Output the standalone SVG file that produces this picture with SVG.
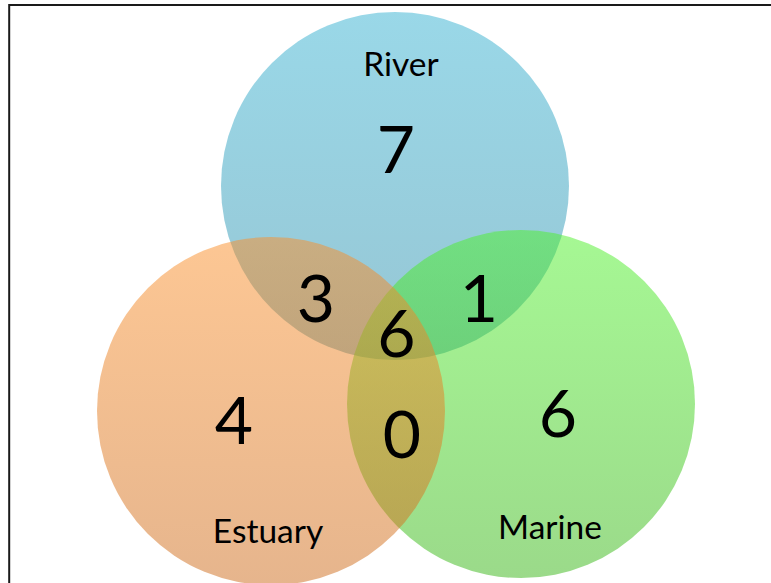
<svg xmlns="http://www.w3.org/2000/svg" width="771" height="583" viewBox="0 0 771 583">
  <defs>
    <linearGradient id="gRiver" x1="0" y1="0" x2="0" y2="1">
      <stop offset="0" stop-color="#35b1d1"/>
      <stop offset="1" stop-color="#2d8da9"/>
    </linearGradient>
    <linearGradient id="gMarine" x1="0" y1="0" x2="0" y2="1">
      <stop offset="0" stop-color="#4df129"/>
      <stop offset="1" stop-color="#37b515"/>
    </linearGradient>
    <linearGradient id="gEstuary" x1="0" y1="0" x2="0" y2="1">
      <stop offset="0" stop-color="#fb8f29"/>
      <stop offset="1" stop-color="#cd6b1b"/>
    </linearGradient>
  </defs>
  <style>
    .set { fill-opacity: 0.5; stroke: none; }
    .lbl { font-family: Lato, "Liberation Sans", sans-serif; font-size: 33.5px; fill: #000; text-anchor: middle; }
    .num { font-family: Lato, "Liberation Sans", sans-serif; font-size: 66px; fill: #000; text-anchor: middle; }
  </style>
  <rect x="0" y="0" width="771" height="583" fill="#ffffff"/>
  <path d="M9.2,583 V5 H771" fill="none" stroke="#1a1a1a" stroke-width="2"/>
  <g id="river">
    <circle class="set" cx="395" cy="186" r="174" fill="url(#gRiver)"/>
    <text class="lbl" x="401" y="76">River</text>
  </g>
  <g id="marine">
    <circle class="set" cx="521" cy="404" r="174" fill="url(#gMarine)"/>
    <text class="lbl" x="550" y="539">Marine</text>
  </g>
  <g id="estuary">
    <circle class="set" cx="271" cy="411" r="174" fill="url(#gEstuary)"/>
    <text class="lbl" x="268" y="543">Estuary</text>
  </g>
  <g id="connectors"></g>
  <g id="counts">
    <text class="num" x="396" y="173">7</text>
    <text class="num" x="316" y="322">3</text>
    <text class="num" x="479" y="322">1</text>
    <text class="num" x="396.5" y="357">6</text>
    <text class="num" x="402" y="458">0</text>
    <text class="num" x="234" y="444">4</text>
    <text class="num" x="558" y="437">6</text>
  </g>
</svg>
